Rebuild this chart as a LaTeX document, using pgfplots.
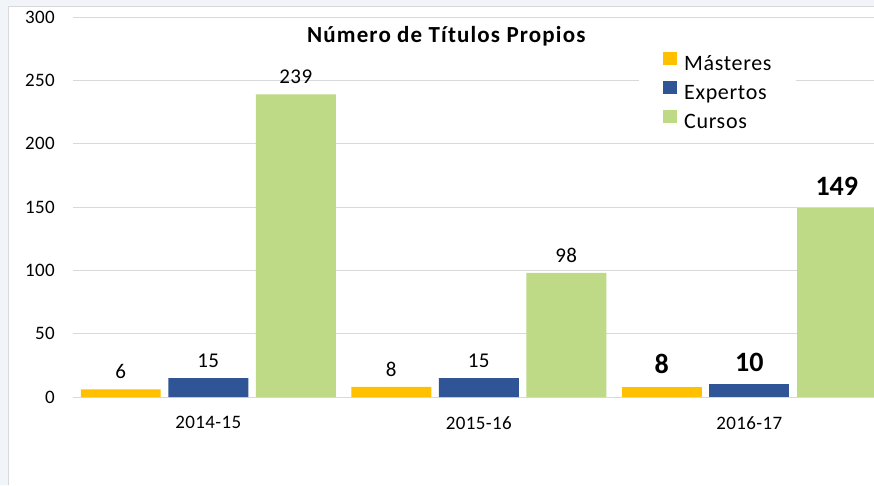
\documentclass[border=0pt]{standalone}
\usepackage{fontspec}
\setmainfont{Carlito}
\usepackage{pgfplots}
\pgfplotsset{compat=1.18}
\definecolor{cM}{RGB}{255,192,0}
\definecolor{cE}{RGB}{47,85,151}
\definecolor{cC}{RGB}{190,218,134}
\definecolor{gridc}{RGB}{217,217,217}
\definecolor{bgc}{RGB}{241,245,249}
\begin{document}
\begin{tikzpicture}
\path[use as bounding box] (0pt,0pt) rectangle (874pt,-485pt);
\fill[bgc] (0pt,0pt) rectangle (874pt,-485pt);
\fill[white] (8pt,-6pt) rectangle (874pt,-485pt);
\draw[gridc,line width=1pt] (8pt,-485pt) -- (8pt,-6pt) -- (874pt,-6pt);
\begin{axis}[
  at={(73pt,-397pt)}, anchor=south west,
  scale only axis, width=801pt, height=380pt,
  ybar, bar width=0.2957,
  xmin=-0.5, xmax=2.461, ymin=0, ymax=300,
  ytick={0,50,...,300},
  xtick={0,1,2}, xticklabels={2014-15,2015-16,2016-17},
  axis line style={draw=none},
  major tick length=0pt,
  ymajorgrids, major grid style={gridc, line width=1pt},
  tick label style={font=\fontsize{19}{22}\selectfont\addfontfeature{LetterSpace=2}, text=black},
  /pgf/number format/assume math mode=true,
  yticklabel style={inner sep=0pt, anchor=east, xshift=-18pt},
  xticklabel style={inner sep=0pt, anchor=north, yshift=-19pt},
  title={Número de Títulos Propios},
  title style={at={(0.466,0.916)}, anchor=base, font=\bfseries\fontsize{23}{27}\selectfont\addfontfeature{LetterSpace=5}},
  legend style={at={(0.7066,0.92)}, anchor=north west, draw=none, fill=white,
    inner xsep=24pt, inner ysep=4pt, row sep=5.5pt, column sep=7pt,
    font=\fontsize{22}{26}\selectfont\addfontfeature{LetterSpace=3},
    nodes={inner sep=0pt, text height=15pt, text depth=5pt}},
  legend cell align=left,
  legend image code/.code={\fill[#1,draw=none] (0pt,0pt) rectangle (14pt,13.5pt);},
  nodes near coords,
  nodes near coords style={font=\fontsize{21}{25}\selectfont\addfontfeature{LetterSpace=2}, inner sep=0pt, anchor=base, yshift=10.5pt, text=black},
]
\addplot[fill=cM, draw=none, bar shift=-0.3235] coordinates {(0,6) (1,8)};
\addplot[fill=cE, draw=none, bar shift=0] coordinates {(0,15) (1,15)};
\addplot[fill=cC, draw=none, bar shift=0.3235] coordinates {(0,239) (1,98)};
\addplot[fill=cM, draw=none, bar shift=-0.3235, forget plot,
  nodes near coords style={font=\bfseries\fontsize{28}{32}\selectfont, yshift=2.5pt}] coordinates {(2,8)};
\addplot[fill=cE, draw=none, bar shift=0, forget plot,
  nodes near coords style={font=\bfseries\fontsize{28}{32}\selectfont, yshift=2.5pt}] coordinates {(2,10)};
\addplot[fill=cC, draw=none, bar shift=0.3235, forget plot,
  nodes near coords style={font=\bfseries\fontsize{28}{32}\selectfont, yshift=2.5pt}] coordinates {(2,149)};
\legend{Másteres,Expertos,Cursos}
\end{axis}
\end{tikzpicture}
\end{document}
